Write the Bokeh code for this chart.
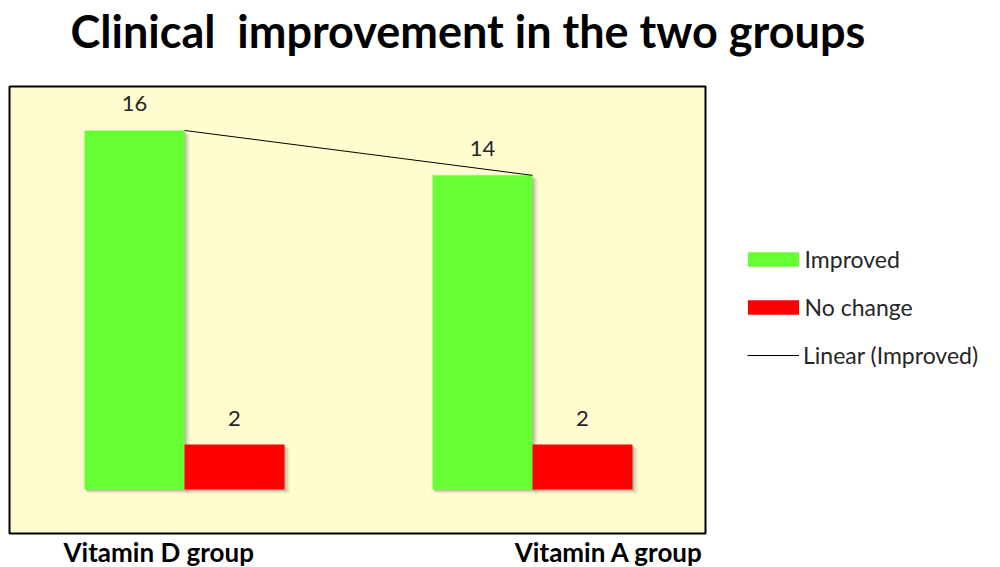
import numpy as np
from bokeh.plotting import figure
from bokeh.core.properties import value
from bokeh.models import ColumnDataSource, LabelSet, Label, Legend, LegendItem, Range1d
from bokeh.embed import file_html
from bokeh.resources import INLINE

# ---- data ----
categories = ["Vitamin D group", "Vitamin A group"]
improved = [16, 14]
no_change = [2, 2]
series_names = ["Improved", "No change", "Linear (Improved)"]
title_text = "Clinical\u00a0 improvement in the two groups"

# ---- layout constants (canvas pixels) ----
W, H = 1000, 567
BOX_L, BOX_R, BOX_T, BOX_B = 9, 705, 86, 533   # chart box
CAT0_PX, PX_PER_CAT = 184, 348                 # category centre / spacing
ZERO_PX, PX_PER_UNIT = 489, 22.44              # value 0 row / px per unit
BAR_W = 100 / PX_PER_CAT
FONT = "Lato"
TXT = "#262626"
SHIFT = 0.34   # empirical baseline correction (fraction of font size)

X0 = -CAT0_PX / PX_PER_CAT
X1 = X0 + W / PX_PER_CAT
Y0 = -(H - ZERO_PX) / PX_PER_UNIT
Y1 = ZERO_PX / PX_PER_UNIT

def dx(px):
    return X0 + px / PX_PER_CAT

def dy(px):
    return Y1 - px / PX_PER_UNIT

p = figure(width=W, height=H, output_backend="svg", toolbar_location=None,
           x_range=Range1d(X0, X1), y_range=Range1d(Y0, Y1),
           x_axis_type=None, y_axis_type=None,
           min_border_left=0, min_border_right=0, min_border_top=0, min_border_bottom=0)
p.background_fill_color = "white"
p.border_fill_color = "white"
p.outline_line_color = None

# chart box
p.quad(left=[dx(BOX_L)], right=[dx(BOX_R)], top=[dy(BOX_T)], bottom=[dy(BOX_B)],
       fill_color="#FFFCCF", line_color="black", line_width=2)

idx = np.arange(len(categories), dtype=float)
imp = np.array(improved, dtype=float)
noc = np.array(no_change, dtype=float)
gx = idx - BAR_W / 2
rx = idx + BAR_W / 2

# soft shadows
ux = 1 / PX_PER_CAT
uy = 1 / PX_PER_UNIT
for off, alpha in [(4, 0.10), (2.5, 0.15), (1.2, 0.2)]:
    for xs, tops in [(gx, imp), (rx, noc)]:
        p.vbar(x=xs + off * ux, width=BAR_W + off * ux * 0.6, top=tops - off * uy,
               bottom=-off * uy, fill_color="#555555", fill_alpha=alpha, line_color=None)

r_imp = p.vbar(x=gx, width=BAR_W, top=imp, bottom=0, fill_color="#66FF33", line_color=None)
r_noc = p.vbar(x=rx, width=BAR_W, top=noc, bottom=0, fill_color="#FF0000", line_color=None)

coef = np.polyfit(idx, imp, 1)
r_lin = p.line(x=idx, y=np.polyval(coef, idx), line_color="black", line_width=1)

src = ColumnDataSource(dict(
    x=np.concatenate([gx, rx]),
    y=np.concatenate([imp, noc]),
    t=[str(v) for v in list(improved) + list(no_change)],
))
p.add_layout(LabelSet(x="x", y="y", text="t", source=src, y_offset=19,
                      text_align="center", text_baseline="alphabetic",
                      text_font=value(FONT), text_font_size=value("22px"),
                      text_color=value(TXT)))

# title
TFS = 45
p.add_layout(Label(x=70, y=H - (46 - SHIFT * TFS), x_units="screen", y_units="screen",
                   text=title_text, text_font=FONT, text_font_size=f"{TFS}px",
                   text_font_style="bold", text_color="black", text_baseline="alphabetic"))

# category labels
CFS = 26
cy = H - (560 - SHIFT * CFS)
p.add_layout(Label(x=63, y=cy, x_units="screen", y_units="screen", text=categories[0],
                   text_font=FONT, text_font_size=f"{CFS}px", text_font_style="bold",
                   text_color="black", text_align="left", text_baseline="alphabetic"))
p.add_layout(Label(x=703, y=cy, x_units="screen", y_units="screen", text=categories[1],
                   text_font=FONT, text_font_size=f"{CFS}px", text_font_style="bold",
                   text_color="black", text_align="right", text_baseline="alphabetic"))

# legends
LFS = 23
legA = Legend(items=[LegendItem(label=series_names[0], renderers=[r_imp]),
                     LegendItem(label=series_names[1], renderers=[r_noc])],
              location=(740.6, H - 321.3), orientation="vertical",
              glyph_width=64, glyph_height=18, label_standoff=-4, spacing=20,
              padding=0, margin=0, border_line_color=None, background_fill_alpha=0,
              label_text_font=FONT, label_text_font_size=f"{LFS}px", label_text_color=TXT)
legB = Legend(items=[LegendItem(label=series_names[2], renderers=[r_lin])],
              location=(747, H - 369.3), orientation="vertical",
              glyph_width=52, glyph_height=18, label_standoff=4,
              padding=0, margin=0, border_line_color=None, background_fill_alpha=0,
              label_text_font=FONT, label_text_font_size=f"{LFS}px", label_text_color=TXT)
p.add_layout(legA)
p.add_layout(legB)

open("out.html", "w").write(file_html(p, INLINE))
